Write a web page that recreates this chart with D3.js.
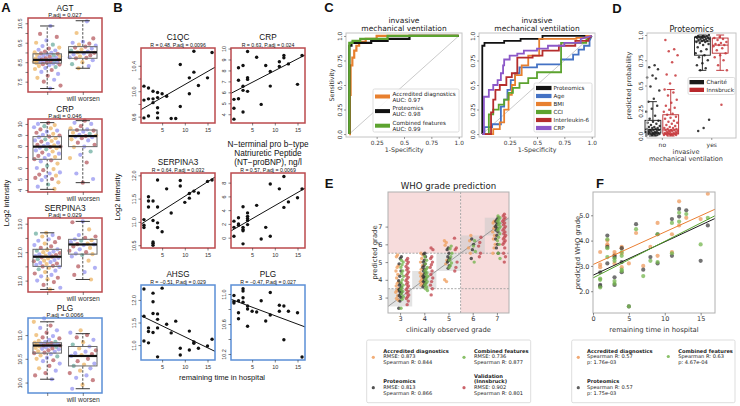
<!DOCTYPE html>
<html><head><meta charset="utf-8">
<script src="https://cdn.jsdelivr.net/npm/d3@7/dist/d3.min.js"></script>
<style>html,body{margin:0;padding:0;background:#fff}svg{display:block}</style>
</head><body>
<svg id="fig" width="740" height="406" xmlns="http://www.w3.org/2000/svg"></svg>
<script>
// ================= DATA =================
// ---- Panel A: protein intensities (no worsening vs will worsen) ----
const agtNo = [10.36, 9.95, 9.8, 9.62, 9.5, 9.4, 9.33, 9.25, 9.2, 9.14, 9.1, 9.05, 9.0, 8.98, 8.95, 8.93, 8.9, 8.88, 8.85, 8.82, 8.8, 8.78, 8.75, 8.72, 8.7, 8.68, 8.66, 8.64, 8.62, 8.6, 8.58, 8.56, 8.55, 8.53, 8.52, 8.5, 8.48, 8.47, 8.45, 8.43, 8.4, 8.38, 8.35, 8.3, 8.25, 8.2, 8.15, 8.1, 8.0, 7.9, 7.8, 7.7, 7.6, 7.5, 7.3, 7.15];
const agtWorse = [10.6, 10.0, 9.72, 9.55, 9.5, 9.45, 9.4, 9.35, 9.3, 9.25, 9.2, 9.15, 9.1, 9.05, 9.0, 8.98, 8.95, 8.9, 8.85, 8.8, 8.75, 8.72, 8.7, 8.6, 8.5, 8.4, 8.3, 8.19];
const crpNo = [10.1, 10.0, 9.9, 9.8, 9.7, 9.6, 9.5, 9.4, 9.3, 9.2, 9.1, 9.0, 8.95, 8.85, 8.8, 8.7, 8.6, 8.5, 8.45, 8.4, 8.3, 8.2, 8.1, 8.05, 8.0, 7.95, 7.9, 7.85, 7.8, 7.7, 7.6, 7.5, 7.4, 7.3, 7.2, 7.1, 7.0, 6.9, 6.8, 6.7, 6.6, 6.4, 6.2, 6.0, 5.9, 5.8, 5.6, 5.5, 5.4, 5.3, 5.2, 5.1, 5.0, 4.9, 4.7, 4.5, 4.3, 4.1];
const crpWorse = [10.3, 10.1, 10.0, 9.8, 9.6, 9.5, 9.45, 9.4, 9.3, 9.2, 9.1, 9.0, 8.95, 8.9, 8.85, 8.8, 8.7, 8.6, 8.5, 8.3, 8.1, 7.95, 7.9, 7.5, 7.2, 6.9, 6.5, 5.5, 5.0, 4.67];
const serNo = [12.68, 12.65, 12.6, 12.55, 12.5, 12.45, 12.4, 12.35, 12.3, 12.25, 12.2, 12.15, 12.1, 12.08, 12.05, 12.02, 12.0, 11.97, 11.95, 11.92, 11.9, 11.88, 11.86, 11.84, 11.82, 11.8, 11.78, 11.75, 11.72, 11.7, 11.68, 11.65, 11.62, 11.6, 11.58, 11.55, 11.52, 11.5, 11.48, 11.45, 11.4, 11.35, 11.3, 11.25, 11.2, 11.15, 11.1, 11.05, 11.0, 10.95, 10.85, 10.75, 10.69];
const serWorse = [13.08, 13.05, 12.8, 12.6, 12.55, 12.5, 12.45, 12.42, 12.4, 12.35, 12.3, 12.28, 12.27, 12.25, 12.2, 12.15, 12.1, 12.05, 12.0, 11.95, 11.93, 11.9, 11.85, 11.7, 11.5, 11.45, 11.3, 11.2, 11.04];
const plgNo = [11.35, 11.28, 11.2, 11.15, 11.1, 11.05, 11.0, 10.98, 10.95, 10.93, 10.9, 10.88, 10.86, 10.85, 10.84, 10.83, 10.82, 10.81, 10.8, 10.8, 10.79, 10.78, 10.78, 10.77, 10.76, 10.75, 10.74, 10.73, 10.72, 10.71, 10.7, 10.68, 10.66, 10.65, 10.63, 10.62, 10.6, 10.57, 10.55, 10.52, 10.5, 10.47, 10.45, 10.4, 10.35, 10.3, 10.25, 10.2, 10.15, 10.07];
const plgWorse = [11.1, 11.05, 11.0, 10.95, 10.9, 10.85, 10.8, 10.76, 10.72, 10.68, 10.65, 10.62, 10.6, 10.58, 10.56, 10.5, 10.45, 10.4, 10.38, 10.35, 10.3, 10.25, 10.2, 10.15, 10.1, 10.05, 9.95, 9.87];
// box stats: [lower whisker, Q1, median, Q3, upper whisker]
const agtBox = [[7.15, 8.45, 8.62, 8.93, 10.36], [8.19, 8.7, 9.01, 9.3, 10.63]];
const crpBox = [[4.06, 6.79, 7.94, 8.85, 10.12], [4.67, 7.94, 8.9, 9.45, 10.3]];
const serBox = [[10.69, 11.5, 11.84, 12.1, 12.68], [11.04, 11.93, 12.27, 12.45, 13.08]];
const plgBox = [[10.07, 10.62, 10.78, 10.84, 11.28], [9.87, 10.35, 10.56, 10.76, 11.03]];
const aGroups = ["", "will worsen"];
const agtTicks = [7.5, 8.0, 8.5, 9.0, 9.5, 10.0, 10.5], agtLabels = [7.5, 8.5, 9.5, 10.5];
const crpTicks = [4, 5, 6, 7, 8, 9, 10], crpLabels = [4, 5, 6, 7, 8, 9, 10];
const serTicks = [11.0, 11.5, 12.0, 12.5, 13.0], serLabels = [11.0, 12.0, 13.0];
const plgTicks = [10.0, 10.5, 11.0], plgLabels = [10.0, 10.5, 11.0];

// ---- Panel B: [remaining days, log2 intensity] ----
const c1qcPts = [[1,10.08],[1,9.86],[1,9.58],[2,10.05],[2,9.88],[2,9.61],[3,10.0],[3,9.88],[3,9.82],[4,9.98],[4,9.9],[4,9.74],[4,9.66],[4,9.58],[5,9.96],[6,9.92],[7,9.57],[8,9.57],[9,10.42],[9,9.76],[11,10.21],[11,9.96],[12,10.3],[12,10.63],[13,10.09],[15,10.21],[16,10.61]];
const crpBPts = [[1,5.36],[1,4.55],[1,3.55],[2,7.1],[2,8.24],[2,5.42],[3,8.45],[3,6.18],[3,6.55],[3,4.2],[4,9.73],[4,7.33],[4,7.18],[4,6.09],[6,9.2],[7,4.9],[8,8.45],[9,7.9],[9,6.57],[11,8.8],[11,8.36],[12,9.36],[12,9.15],[13,8.6],[15,6.73],[16,9.36]];
const serBPts = [[1,11.05],[1,10.93],[1,10.88],[2,11.54],[2,11.45],[2,11.32],[3,11.45],[3,11.03],[3,10.57],[3,10.54],[3,10.5],[4,11.9],[4,11.32],[4,10.98],[4,10.88],[5,10.79],[6,11.71],[7,11.19],[9,11.89],[9,11.77],[10,11.42],[11,11.61],[11,11.51],[12,11.66],[13,11.62],[15,11.87],[16,11.9]];
const bnpPts = [[1,2.4],[1,1.5],[1,0.2],[2,2.9],[2,2.0],[2,1.8],[3,4.5],[3,1.5],[3,1.2],[3,1.0],[3,-0.9],[4,3.6],[4,3.1],[4,2.8],[4,2.5],[4,1.9],[6,4.7],[7,-0.2],[8,1.5],[9,7.8],[9,0.2],[11,7.1],[12,8.9],[12,4.4],[13,5.2],[15,5.8],[16,7.1]];
const ahsgPts = [[1,12.24],[1,11.64],[1,11.09],[2,11.38],[2,11.3],[2,11.05],[3,12.15],[3,11.96],[3,11.7],[3,11.28],[4,11.69],[4,11.57],[4,11.38],[4,10.74],[5,12.26],[6,11.46],[7,11.27],[8,11.53],[9,10.93],[9,10.78],[11,11.31],[11,10.89],[12,11.07],[12,11.04],[13,10.93],[15,10.98],[16,11.13]];
const plgBPts = [[1,10.98],[1,10.9],[1,10.88],[2,10.91],[2,10.75],[2,10.67],[3,11.07],[3,11.04],[3,10.95],[3,10.89],[4,10.84],[4,10.8],[4,10.57],[5,10.77],[6,10.76],[7,10.91],[8,10.64],[9,11.02],[9,10.72],[11,10.85],[11,10.77],[12,10.84],[12,10.39],[13,10.77],[15,10.75],[16,10.16]];
const bXTicks = [5, 10, 15];

// ---- Panel C: ROC curves [FPR list, TPR list] ----
const rocAccredFpr = [0, 0.005, 0.005, 0.012, 0.012, 0.028, 0.028, 0.045, 0.045, 0.065, 0.065, 0.09, 0.09, 0.15, 0.15, 0.25, 0.25, 1];
const rocAccredTpr = [0, 0, 0.4, 0.4, 0.7, 0.7, 0.78, 0.78, 0.85, 0.85, 0.9, 0.9, 0.94, 0.94, 0.97, 0.97, 1, 1];
const rocProtFpr = [0, 0, 0.02, 0.02, 0.2, 0.2, 0.35, 0.35, 0.55, 0.55, 1];
const rocProtTpr = [0, 0.9, 0.9, 0.93, 0.93, 0.95, 0.95, 0.97, 0.97, 1, 1];
const rocCombFpr = [0, 0, 0.03, 0.03, 0.1, 0.1, 0.35, 0.35, 1];
const rocCombTpr = [0, 0.93, 0.93, 0.95, 0.95, 0.97, 0.97, 1, 1];
const rocAgeFpr = [0, 0.02, 0.02, 0.09, 0.09, 0.17, 0.17, 0.2, 0.2, 0.23, 0.23, 0.26, 0.26, 0.3, 0.3, 0.34, 0.34, 0.5, 0.5, 0.72, 0.72, 0.83, 0.83, 0.88, 0.88, 0.93, 0.93, 0.98, 0.98, 1];
const rocAgeTpr = [0, 0, 0.07, 0.07, 0.1, 0.1, 0.28, 0.28, 0.35, 0.35, 0.45, 0.45, 0.55, 0.55, 0.62, 0.62, 0.68, 0.68, 0.71, 0.71, 0.76, 0.76, 0.81, 0.81, 0.86, 0.86, 0.9, 0.9, 0.95, 1];
const rocBmiFpr = [0, 0.1, 0.1, 0.16, 0.16, 0.2, 0.2, 0.24, 0.24, 0.27, 0.27, 0.3, 0.3, 0.36, 0.36, 0.42, 0.42, 0.52, 0.52, 0.86, 0.86, 0.95, 0.95, 1];
const rocBmiTpr = [0, 0, 0.05, 0.05, 0.12, 0.12, 0.25, 0.25, 0.4, 0.4, 0.5, 0.5, 0.6, 0.6, 0.7, 0.7, 0.8, 0.8, 0.97, 0.97, 0.98, 0.98, 1, 1];
const rocCciFpr = [0, 0.06, 0.06, 0.1, 0.1, 0.15, 0.15, 0.2, 0.2, 0.24, 0.24, 0.28, 0.28, 0.34, 0.34, 0.42, 0.42, 0.5, 0.5, 0.72, 0.72, 0.95, 0.95, 1];
const rocCciTpr = [0, 0, 0.2, 0.2, 0.25, 0.25, 0.3, 0.3, 0.35, 0.35, 0.42, 0.42, 0.47, 0.47, 0.52, 0.52, 0.57, 0.57, 0.63, 0.63, 0.93, 0.93, 0.96, 1];
const rocIl6Fpr = [0, 0.08, 0.08, 0.1, 0.1, 0.12, 0.12, 0.16, 0.16, 0.22, 0.22, 0.27, 0.27, 0.32, 0.32, 0.46, 0.46, 0.55, 0.55, 0.7, 0.7, 0.85, 0.85, 0.97, 0.97, 1];
const rocIl6Tpr = [0, 0, 0.22, 0.22, 0.35, 0.35, 0.45, 0.45, 0.5, 0.5, 0.58, 0.58, 0.62, 0.62, 0.78, 0.78, 0.8, 0.8, 0.85, 0.85, 0.9, 0.9, 0.95, 0.95, 0.97, 1];
const rocCrpFpr = [0, 0.015, 0.015, 0.06, 0.06, 0.1, 0.1, 0.14, 0.14, 0.17, 0.17, 0.19, 0.19, 0.2, 0.2, 0.25, 0.25, 0.32, 0.32, 0.38, 0.38, 0.5, 0.5, 0.6, 0.6, 0.75, 0.75, 0.9, 0.9, 1];
const rocCrpTpr = [0, 0, 0.38, 0.38, 0.45, 0.45, 0.5, 0.5, 0.55, 0.55, 0.62, 0.62, 0.7, 0.7, 0.76, 0.76, 0.8, 0.8, 0.82, 0.82, 0.85, 0.85, 0.87, 0.87, 0.9, 0.9, 0.93, 0.93, 0.97, 1];
const rocTicks = [0.25, 0.5, 0.75, 1.0], rocYTicks = [0.0, 0.25, 0.5, 0.75, 1.0];

// ---- Panel D: predicted probabilities ----
const dChariteNo = [0.70, 0.68, 0.66, 0.60, 0.58, 0.57, 0.49, 0.45, 0.37, 0.34, 0.30, 0.27, 0.24, 0.20, 0.17, 0.15, 0.14, 0.13, 0.12, 0.11, 0.10, 0.09, 0.09, 0.08, 0.08, 0.07, 0.07, 0.06, 0.06, 0.06, 0.05, 0.05, 0.05, 0.04, 0.04, 0.04, 0.03, 0.03, 0.03, 0.03, 0.02, 0.02, 0.02, 0.02, 0.01, 0.01, 0.01, 0.01];
const dInnsNo = [0.95, 0.86, 0.84, 0.80, 0.73, 0.61, 0.60, 0.52, 0.46, 0.43, 0.40, 0.36, 0.33, 0.30, 0.28, 0.26, 0.24, 0.22, 0.21, 0.19, 0.18, 0.17, 0.15, 0.14, 0.13, 0.12, 0.11, 0.10, 0.09, 0.08, 0.08, 0.07, 0.07, 0.06, 0.06, 0.06, 0.05, 0.05, 0.05, 0.04, 0.04, 0.04, 0.03, 0.03, 0.03, 0.03, 0.02, 0.02, 0.02, 0.02, 0.01, 0.01, 0.01, 0.01, 0.01];
const dChariteYes = [1.0, 0.99, 0.99, 0.99, 0.98, 0.98, 0.98, 0.98, 0.97, 0.97, 0.97, 0.96, 0.96, 0.96, 0.95, 0.95, 0.94, 0.94, 0.93, 0.93, 0.92, 0.91, 0.90, 0.88, 0.86, 0.84, 0.82, 0.80, 0.78, 0.75, 0.72, 0.70, 0.67, 0.65, 0.16, 0.08, 0.05];
const dInnsYes = [0.98, 0.97, 0.96, 0.95, 0.93, 0.92, 0.91, 0.90, 0.90, 0.89, 0.87, 0.85, 0.82, 0.80, 0.78, 0.75, 0.70, 0.65, 0.31];
const dBoxCharite = [[0.0, 0.03, 0.065, 0.155, 0.34], [0.65, 0.80, 0.94, 0.98, 1.0]];
const dBoxInns = [[0.0, 0.02, 0.06, 0.21, 0.46], [0.65, 0.82, 0.90, 0.97, 1.0]];
const dCats = ["no", "yes"];

// ---- Panel E: predicted WHO grade per observed grade ----
const eGrades = [3, 4, 5, 6, 7];
const eAccredited = [
  [5.4, 5.3, 4.8, 4.7, 4.5, 4.3, 4.1, 3.9, 3.8, 3.65, 3.5, 3.4, 3.3, 3.1, 2.95, 2.85],
  [5.5, 5.4, 5.2, 5.0, 4.8, 4.6, 4.4, 4.3, 4.2, 4.1, 4.0, 3.9, 3.8, 3.7],
  [6.2, 6.1, 5.95, 5.1, 4.9, 4.0, 3.9],
  [6.5, 6.2, 5.8, 5.5],
  [7.3, 7.2, 7.0, 6.9, 6.7, 6.5, 6.3, 6.0, 5.8, 5.5]];
const eProteomics = [
  [5.3, 5.2, 4.9, 4.5, 4.2, 3.95, 3.8, 3.7, 3.6, 3.5, 3.45, 3.4, 3.35, 3.3, 3.2, 3.1, 3.0, 2.8, 2.4],
  [5.5, 5.45, 5.3, 5.1, 5.0, 4.9, 4.8, 4.7, 4.6, 4.5, 4.4, 4.3, 4.2, 4.15, 4.1, 4.0, 3.95, 3.9, 3.8, 3.7, 3.6],
  [5.8, 5.7, 5.5, 5.3, 5.2, 5.1, 5.0, 4.8, 4.65],
  [6.3, 6.0, 5.7, 5.2],
  [7.5, 7.4, 7.3, 7.2, 7.1, 7.0, 6.9, 6.8, 6.7, 6.5, 6.3, 6.0, 5.8, 5.5]];
const eCombined = [
  [5.1, 5.0, 4.85, 4.7, 4.5, 4.35, 4.2, 4.0, 3.85, 3.7, 3.55, 3.45, 3.35, 3.2, 3.05, 2.9, 2.4],
  [5.3, 5.1, 4.9, 4.7, 4.6, 4.5, 4.4, 4.3, 4.2, 4.1, 4.0, 3.9, 3.8, 3.7, 3.6, 3.5, 3.4],
  [5.9, 5.75, 5.5, 5.3, 5.1, 4.95, 4.8, 4.7],
  [6.2, 5.9, 5.6, 5.0],
  [7.6, 7.5, 7.4, 7.3, 7.2, 7.1, 7.0, 6.9, 6.8, 6.6, 6.4, 6.2, 6.0, 5.5, 5.2]];
const eValidation = [
  [5.2, 5.1, 5.0, 4.9, 4.75, 4.65, 4.55, 4.45, 4.35, 4.25, 4.15, 4.05, 3.95, 3.85, 3.75, 3.65, 3.55, 3.45, 3.35, 3.25, 3.15, 3.05, 2.95, 2.8, 2.6],
  [5.8, 5.7, 5.3, 5.2, 5.0, 4.85, 4.7, 4.5, 4.3, 4.1, 3.9, 3.7, 3.5, 3.15],
  [6.35, 5.8, 5.7, 5.0, 4.7, 4.5],
  [6.4, 6.1, 5.9, 5.5, 5.3],
  [7.7, 7.6, 7.5, 7.4, 7.3, 7.2, 7.1, 7.0, 6.9, 6.8, 6.7, 6.6, 6.5, 6.4, 6.3, 6.2, 6.1, 6.0, 5.8, 5.5, 5.3, 5.0]];
const eLegend = [["Accredited diagnostics", "RMSE: 0.873", "Spearman R: 0.844"], ["Proteomics", "RMSE: 0.813", "Spearman R: 0.866"], ["Combined features", "RMSE: 0.736", "Spearman R: 0.877"], ["Validation", "(Innsbruck)", "RMSE: 0.902", "Spearman R: 0.801"]];

// ---- Panel F: [remaining days, predicted WHO grade] ----
const fAccredited = [[1,3.55],[1,3.05],[1,2.95],[2,4.0],[2,3.85],[2,3.8],[3,3.55],[3,3.45],[3,3.1],[4,3.75],[4,3.7],[4,3.5],[4,2.95],[5,3.1],[6,4.3],[7,3.0],[8,3.75],[9,4.7],[9,3.4],[11,4.25],[11,3.55],[12,5.55],[12,4.6],[13,4.9],[15,4.85],[16,5.85]];
const fProteomics = [[1,2.75],[1,2.25],[1,2.2],[2,4.2],[2,3.75],[2,3.1],[3,3.4],[3,3.35],[3,2.55],[3,2.25],[4,3.7],[4,3.15],[4,2.75],[5,1.4],[6,4.65],[7,2.85],[8,3.35],[9,4.25],[9,3.1],[11,4.85],[11,3.4],[12,5.25],[12,4.95],[13,5.2],[15,3.2],[16,4.6]];
const fCombined = [[1,2.5],[1,2.45],[1,2.15],[2,4.05],[2,3.7],[2,3.35],[3,3.3],[3,3.2],[3,2.4],[3,2.3],[4,3.55],[4,3.4],[4,2.85],[4,2.8],[5,1.4],[6,4.45],[7,2.6],[8,3.2],[9,4.25],[9,3.15],[11,4.7],[11,3.5],[12,5.1],[12,4.75],[13,5.05],[15,3.85],[16,4.9]];
const fLegend = [["Accredited diagnostics", "Spearman R: 0.57", "p: 1.76e-03"], ["Proteomics", "Spearman R: 0.57", "p: 1.75e-03"], ["Combined features", "Spearman R: 0.63", "p: 4.67e-04"]];

// ================= DRAWING =================
const svg = d3.select("#fig");
const RF = "'Liberation Sans', Arial, sans-serif";
const MF = "'DejaVu Sans', sans-serif";
const RED = "#bb4a4d", BLUE = "#5b8fd6";
function txt(x, y, s, o = {}) {
  const t = svg.append("text").attr("x", x).attr("y", y).text(s)
    .attr("font-family", o.f || RF).attr("font-size", o.s || 8)
    .attr("text-anchor", o.a || "middle").attr("fill", o.c || "#111");
  if (o.w) t.attr("font-weight", o.w);
  if (o.r) t.attr("transform", `rotate(${o.r},${x},${y})`);
  return t;
}
function line(g, x1, y1, x2, y2, col, w, dash) {
  const l = g.append("line").attr("x1", x1).attr("y1", y1).attr("x2", x2).attr("y2", y2)
    .attr("stroke", col).attr("stroke-width", w);
  if (dash) l.attr("stroke-dasharray", dash);
  return l;
}
// deterministic low-discrepancy jitter (golden-ratio sequence)
const jit = (i, w) => ((((i + 1) * 0.6180339887) % 1) - 0.5) * w;
function styleYAxis(ax, font, size, off, col) {
  ax.select(".domain").remove();
  ax.selectAll(".tick line").attr("stroke", col || "#333").attr("stroke-width", 0.6);
  ax.selectAll(".tick text").attr("transform", "rotate(-90)").attr("x", 0).attr("y", -off)
    .attr("dy", 0).attr("text-anchor", "middle").attr("font-family", font).attr("font-size", size).attr("fill", "#333");
}
function styleXAxis(ax, font, size, col) {
  ax.select(".domain").remove();
  ax.selectAll(".tick line").attr("stroke", col || "#333").attr("stroke-width", 0.6);
  ax.selectAll(".tick text").attr("font-family", font).attr("font-size", size).attr("fill", "#333");
}

// panel letters
txt(6, 12, "A", {s: 13, w: "bold"});
txt(118, 12, "B", {s: 13, w: "bold"});
txt(329, 12, "C", {s: 13, w: "bold"});
txt(617, 13, "D", {s: 13, w: "bold"});
txt(329, 188, "E", {s: 13, w: "bold"});
txt(600, 188, "F", {s: 13, w: "bold"});

// ---------- Panel A ----------
const aCols = ["#7f7fee", "#a83a40", "#e8a443", "#7f7fee", "#a83a40", "#7f7fee", "#e8a443", "#a83a40", "#7f7fee", "#4f9c8c", "#e8a443", "#7f7fee", "#a83a40"];
const aX = d3.scaleLinear().domain([0.46, 2.54]).range([28, 102]);
const aPanels = [
  {t: "AGT", p: "P.adj = 0.027", top: 18, bot: 92, dom: [6.97, 10.77], ticks: agtTicks, labs: agtLabels, no: agtNo, wo: agtWorse, box: agtBox, fr: RED},
  {t: "CRP", p: "P.adj = 0.046", top: 119, bot: 192, dom: [3.82, 10.45], ticks: crpTicks, labs: crpLabels, no: crpNo, wo: crpWorse, box: crpBox, fr: RED},
  {t: "SERPINA3", p: "P.adj = 0.029", top: 218, bot: 292, dom: [10.6, 13.2], ticks: serTicks, labs: serLabels, no: serNo, wo: serWorse, box: serBox, fr: RED},
  {t: "PLG", p: "P.adj = 0.0066", top: 318, bot: 393, dom: [9.78, 11.36], ticks: plgTicks, labs: plgLabels, no: plgNo, wo: plgWorse, box: plgBox, fr: BLUE}
];
aPanels.forEach((P, k) => {
  const y = d3.scaleLinear().domain(P.dom).range([P.bot, P.top]);
  const g = svg.append("g");
  const hw = aX(1.4) - aX(1);
  [P.no, P.wo].forEach((vals, gi) => {
    g.selectAll(null).data(vals).join("circle")
      .attr("cx", (v, i) => aX(gi + 1) + jit(i + 13 * gi + 29 * k, hw * 1.9))
      .attr("cy", v => y(v)).attr("r", 2.1)
      .attr("fill", (v, i) => aCols[(i * 7 + gi * 3 + k) % aCols.length])
      .attr("fill-opacity", 0.62);
  });
  P.box.forEach((b, gi) => {
    const cx = aX(gi + 1);
    line(g, cx, y(b[0]), cx, y(b[1]), "#222", 0.8, "2.5,1.5");
    line(g, cx, y(b[3]), cx, y(b[4]), "#222", 0.8, "2.5,1.5");
    line(g, cx - hw / 2, y(b[0]), cx + hw / 2, y(b[0]), "#222", 0.9);
    line(g, cx - hw / 2, y(b[4]), cx + hw / 2, y(b[4]), "#222", 0.9);
    g.append("rect").attr("x", cx - hw).attr("y", y(b[3])).attr("width", 2 * hw).attr("height", y(b[1]) - y(b[3]))
      .attr("fill", "none").attr("stroke", "#6a6a6a").attr("stroke-width", 1);
    line(g, cx - hw, y(b[2]), cx + hw, y(b[2]), "#111", 2.2);
  });
  g.append("rect").attr("x", 28).attr("y", P.top).attr("width", 74).attr("height", P.bot - P.top)
    .attr("fill", "none").attr("stroke", P.fr).attr("stroke-width", 1.5);
  const ay = g.append("g").attr("transform", "translate(28,0)")
    .call(d3.axisLeft(y).tickValues(P.ticks).tickSize(2.5).tickFormat(d => P.labs.includes(d) ? (P.t === "CRP" ? d3.format("d")(d) : d3.format(".1f")(d)) : ""));
  styleYAxis(ay, RF, 5.6, 6);
  const ax = g.append("g").attr("transform", `translate(0,${P.bot})`)
    .call(d3.axisBottom(aX).tickValues([1, 2]).tickSize(3).tickPadding(1.2).tickFormat((d, i) => aGroups[i]));
  styleXAxis(ax, RF, 6.8);
  txt(65, P.top - 7.2, P.t, {s: 8.3});
  txt(65, P.top - 1.2, P.p, {s: 5.8});
});
txt(9, 203, "Log2 intensity", {s: 7.5, r: -90});

// ---------- Panel B ----------
const bCols = [141, 231], bRows = [48, 173, 285], bW = 74, bH = 75;
const bPanels = [
  {t: ["C1QC"], s: "R = 0.48, P.adj = 0.0096", pts: c1qcPts, dom: [9.5, 10.68], ticks: [9.6, 9.8, 10.0, 10.2, 10.4], labs: [9.6, 10.0, 10.4], fmt: ".1f", c: 0, r: 0, fr: RED},
  {t: ["CRP"], s: "R = 0.63, P.adj = 0.024", pts: crpBPts, dom: [3.2, 10.05], ticks: [4, 5, 6, 7, 8, 9, 10], labs: [4, 5, 6, 7, 8, 9, 10], fmt: "d", c: 1, r: 0, fr: RED},
  {t: ["SERPINA3"], s: "R = 0.64, P.adj = 0.032", pts: serBPts, dom: [10.44, 12.05], ticks: [10.5, 11.0, 11.5, 12.0], labs: [10.5, 11.0, 11.5, 12.0], fmt: ".1f", c: 0, r: 1, fr: RED},
  {t: ["N\u2212terminal pro b\u2212type", "Natriuretic Peptide", "(NT\u2212proBNP), ng/l"], s: "R = 0.57, P.adj = 0.0069", pts: bnpPts, dom: [-1.5, 9.4], ticks: [0, 2, 4, 6, 8], labs: [0, 2, 4, 6, 8], fmt: "d", c: 1, r: 1, fr: RED},
  {t: ["AHSG"], s: "R = \u22120.51, P.adj = 0.029", pts: ahsgPts, dom: [10.67, 12.33], ticks: [11.0, 11.5, 12.0], labs: [11.0, 11.5, 12.0], fmt: ".1f", c: 0, r: 2, fr: BLUE},
  {t: ["PLG"], s: "R = \u22120.47, P.adj = 0.027", pts: plgBPts, dom: [10.12, 11.12], ticks: [10.2, 10.4, 10.6, 10.8, 11.0], labs: [10.2, 10.6, 11.0], fmt: ".1f", c: 1, r: 2, fr: BLUE}
];
bPanels.forEach(P => {
  const x0 = bCols[P.c], y0 = bRows[P.r];
  const x = d3.scaleLinear().domain([0.35, 16.65]).range([x0, x0 + bW]);
  const y = d3.scaleLinear().domain(P.dom).range([y0 + bH, y0]);
  const g = svg.append("g");
  const clip = "clipB" + P.c + P.r;
  g.append("clipPath").attr("id", clip).append("rect").attr("x", x0).attr("y", y0).attr("width", bW).attr("height", bH);
  const mx = d3.mean(P.pts, d => d[0]), my = d3.mean(P.pts, d => d[1]);
  const sxy = d3.sum(P.pts, d => (d[0] - mx) * (d[1] - my)), sxx = d3.sum(P.pts, d => (d[0] - mx) ** 2);
  const slope = sxy / sxx, icpt = my - slope * mx;
  g.append("line").attr("clip-path", `url(#${clip})`)
    .attr("x1", x(0.35)).attr("y1", y(icpt + slope * 0.35)).attr("x2", x(16.65)).attr("y2", y(icpt + slope * 16.65))
    .attr("stroke", "#111").attr("stroke-width", 1);
  g.selectAll(null).data(P.pts).join("circle")
    .attr("cx", d => x(d[0])).attr("cy", d => y(d[1])).attr("r", 1.7).attr("fill", "#111");
  g.append("rect").attr("x", x0).attr("y", y0).attr("width", bW).attr("height", bH)
    .attr("fill", "none").attr("stroke", P.fr).attr("stroke-width", 1.5);
  const ay = g.append("g").attr("transform", `translate(${x0},0)`)
    .call(d3.axisLeft(y).tickValues(P.ticks).tickSize(2.5).tickFormat(d => P.labs.includes(d) ? d3.format(P.fmt)(d) : ""));
  styleYAxis(ay, RF, 5.5, 5.5);
  const ax = g.append("g").attr("transform", `translate(0,${y0 + bH})`)
    .call(d3.axisBottom(x).tickValues(bXTicks).tickSize(2.5));
  styleXAxis(ax, RF, 5.5);
  const cx = x0 + bW / 2;
  P.t.forEach((s, i) => txt(cx, y0 - 7.8 - (P.t.length - 1 - i) * 9.3, s, {s: 8.2}));
  txt(cx, y0 - 1.3, P.s, {s: 5.2});
});
txt(120, 197, "Log2 intensity", {s: 7.6, r: -90});
txt(222, 380, "remaining time in hospital", {s: 7.6});

// ---------- Panel C ----------
function rocAxes(x0, x1, y0, y1, showYLabel) {
  const x = d3.scaleLinear().domain([-0.03, 1.03]).range([x0, x1]);
  const y = d3.scaleLinear().domain([-0.03, 1.03]).range([y1, y0]);
  const g = svg.append("g");
  g.append("rect").attr("x", x0).attr("y", y0).attr("width", x1 - x0).attr("height", y1 - y0).attr("fill", "#fff");
  line(g, x(0), y(0), x(1), y(1), "#bdbdbd", 0.8);
  g.append("rect").attr("x", x0).attr("y", y0).attr("width", x1 - x0).attr("height", y1 - y0)
    .attr("fill", "none").attr("stroke", "#c4c4c4").attr("stroke-width", 1);
  const ax = g.append("g").attr("transform", `translate(0,${y1})`).call(d3.axisBottom(x).tickValues(rocTicks).tickSize(2).tickPadding(2).tickFormat(d => d === 1 ? "1.0" : String(d)));
  styleXAxis(ax, MF, 5.8, "#555");
  const ay = g.append("g").attr("transform", `translate(${x0},0)`).call(d3.axisLeft(y).tickValues(rocYTicks).tickSize(2).tickFormat(d => d === 0 ? "0.0" : d === 1 ? "1.0" : String(d)));
  styleYAxis(ay, MF, 5.8, 4.5, "#555");
  txt((x0 + x1) / 2, y1 + 15, "1-Specificity", {f: MF, s: 6.3, c: "#333"});
  if (showYLabel) txt(x0 - 12, (y0 + y1) / 2, "Sensitivity", {f: MF, s: 6.3, r: -90, c: "#333"});
  txt((x0 + x1) / 2, y0 - 10.2, "invasive", {f: MF, s: 7.5, c: "#222"});
  txt((x0 + x1) / 2, y0 - 1.6, "mechanical ventilation", {f: MF, s: 7.5, c: "#222"});
  return {g, x, y};
}
function rocCurve(ax, fpr, tpr, col, w) {
  const pts = fpr.map((f, i) => [f, tpr[i]]);
  ax.g.append("path").datum(pts).attr("d", d3.line().x(d => ax.x(d[0])).y(d => ax.y(d[1])))
    .attr("fill", "none").attr("stroke", col).attr("stroke-width", w).attr("stroke-linejoin", "miter");
}
function legendBox(x, y, w, h) {
  svg.append("rect").attr("x", x).attr("y", y).attr("width", w).attr("height", h).attr("rx", 1.5)
    .attr("fill", "#fff").attr("fill-opacity", 0.85).attr("stroke", "#d4d4d4").attr("stroke-width", 0.8);
}
const C_OR = "#e8802f", C_BK = "#111111", C_GR = "#5ca32f", C_BL = "#4472c4", C_RD = "#b52d2d", C_PU = "#8c58c8";
const cL = rocAxes(346, 462, 33, 137, true);
rocCurve(cL, rocAccredFpr, rocAccredTpr, C_OR, 2.2);
rocCurve(cL, rocProtFpr, rocProtTpr, C_BK, 2.2);
rocCurve(cL, rocCombFpr, rocCombTpr, C_GR, 2.2);
legendBox(373, 89, 86, 43);
[[C_OR, "Accredited diagnostics", "AUC: 0.97"], [C_BK, "Proteomics", "AUC: 0.98"], [C_GR, "Combined features", "AUC: 0.99"]].forEach((e, i) => {
  const yy = 96.5 + i * 14.6;
  svg.append("rect").attr("x", 375).attr("y", yy - 2).attr("width", 15).attr("height", 4).attr("fill", e[0]);
  txt(392.5, yy - 0.8, e[1], {f: MF, s: 5.6, a: "start", c: "#222"});
  txt(392.5, yy + 5, e[2], {f: MF, s: 5.6, a: "start", c: "#222"});
});
const cR = rocAxes(479, 595, 33, 137, false);
rocCurve(cR, rocProtFpr, rocProtTpr, C_BK, 1.8);
rocCurve(cR, rocAgeFpr, rocAgeTpr, C_BL, 1.8);
rocCurve(cR, rocBmiFpr, rocBmiTpr, C_OR, 1.8);
rocCurve(cR, rocCciFpr, rocCciTpr, C_GR, 1.8);
rocCurve(cR, rocIl6Fpr, rocIl6Tpr, C_RD, 1.8);
rocCurve(cR, rocCrpFpr, rocCrpTpr, C_PU, 1.8);
legendBox(534, 83, 58, 49);
[[C_BK, "Proteomics"], [C_BL, "Age"], [C_OR, "BMI"], [C_GR, "CCI"], [C_RD, "Interleukin-6"], [C_PU, "CRP"]].forEach((e, i) => {
  const yy = 88 + i * 8;
  svg.append("rect").attr("x", 536).attr("y", yy - 2.1).attr("width", 15.5).attr("height", 4.2).attr("fill", e[0]);
  txt(553.5, yy + 2, e[1], {f: MF, s: 5.6, a: "start", c: "#222"});
});

// ---------- Panel D ----------
{
  const x0 = 647, x1 = 736, y0 = 33, y1 = 138;
  const x = d3.scaleLinear().domain([-0.3, 1.5]).range([x0, x1]);
  const y = d3.scaleLinear().domain([-0.02, 1.02]).range([y1, y0]);
  const g = svg.append("g");
  const D_BK = "#1a1a1a", D_RD = "#b8282c";
  const bw = x(0.16) - x(0);
  const groups = [
    {vals: [dChariteNo, dChariteYes], box: dBoxCharite, dx: -0.18, col: D_BK, pc: "#1a1a1a"},
    {vals: [dInnsNo, dInnsYes], box: dBoxInns, dx: 0.18, col: D_RD, pc: "#c7373b"}
  ];
  groups.forEach((G, gi) => {
    G.box.forEach((b, ci) => {
      const cx = x(ci + G.dx);
      line(g, cx, y(b[0]), cx, y(b[1]), G.col, 0.9);
      line(g, cx, y(b[3]), cx, y(b[4]), G.col, 0.9);
      line(g, cx - bw / 2, y(b[0]), cx + bw / 2, y(b[0]), G.col, 0.9);
      line(g, cx - bw / 2, y(b[4]), cx + bw / 2, y(b[4]), G.col, 0.9);
      g.append("rect").attr("x", cx - bw).attr("y", y(b[3])).attr("width", 2 * bw).attr("height", y(b[1]) - y(b[3]))
        .attr("fill", "none").attr("stroke", G.col).attr("stroke-width", 0.9);
      line(g, cx - bw, y(b[2]), cx + bw, y(b[2]), G.col, 0.9);
    });
    G.vals.forEach((vals, ci) => {
      g.selectAll(null).data(vals).join("circle")
        .attr("cx", (v, i) => x(ci + G.dx) + jit(i + 17 * gi + 41 * ci, bw * 1.8))
        .attr("cy", v => y(v)).attr("r", 1.25).attr("fill", G.pc).attr("fill-opacity", 0.85);
    });
  });
  g.append("rect").attr("x", x0).attr("y", y0).attr("width", x1 - x0).attr("height", y1 - y0)
    .attr("fill", "none").attr("stroke", "#c4c4c4").attr("stroke-width", 1);
  const ay = g.append("g").attr("transform", `translate(${x0},0)`).call(d3.axisLeft(y).tickValues(rocYTicks).tickSize(2).tickFormat(d => d === 0 ? "0.0" : d === 1 ? "1.0" : String(d)));
  styleYAxis(ay, MF, 5.8, 4.5, "#555");
  const ax = g.append("g").attr("transform", `translate(0,${y1})`).call(d3.axisBottom(x).tickValues([0, 1]).tickSize(2).tickFormat((d, i) => dCats[i]));
  styleXAxis(ax, MF, 6, "#555");
  txt((x0 + x1) / 2, 31.5, "Proteomics", {f: MF, s: 8, c: "#222"});
  txt(631, (y0 + y1) / 2, "predicted probability", {f: MF, s: 6.5, r: -90, c: "#333"});
  txt(686, 154, "invasive", {f: MF, s: 6.5, c: "#333"});
  txt(686, 161, "mechanical ventilation", {f: MF, s: 6.5, c: "#333"});
  legendBox(688, 77.5, 47, 17);
  [[D_BK, "Charit\u00e9"], [D_RD, "Innsbruck"]].forEach((e, i) => {
    const yy = 82 + i * 7.7;
    svg.append("rect").attr("x", 689.5).attr("y", yy - 2).attr("width", 14.5).attr("height", 4.3).attr("fill", e[0]);
    txt(706.5, yy + 2, e[1], {f: MF, s: 5.6, a: "start", c: "#222"});
  });
}

// ---------- Panel E ----------
const E_OR = "#f0a060", E_BK = "#333333", E_GR = "#74b54e", E_RD = "#c24850";
{
  const x0 = 388, x1 = 509, y0 = 192, y1 = 313;
  const x = d3.scaleLinear().domain([2.5, 7.5]).range([x0, x1]);
  const y = d3.scaleLinear().domain([2.13, 8.95]).range([y1, y0]);
  const g = svg.append("g");
  g.append("rect").attr("x", x(2.5)).attr("y", y(8.95)).attr("width", x(5.5) - x(2.5)).attr("height", y(5.5) - y(8.95)).attr("fill", "#f7dcdc");
  g.append("rect").attr("x", x(5.5)).attr("y", y(8.95)).attr("width", x(7.5) - x(5.5)).attr("height", y(2.13) - y(8.95)).attr("fill", "#f7dcdc");
  eGrades.forEach(gr => {
    g.append("rect").attr("x", x(gr - 0.5)).attr("y", y(gr + 0.5)).attr("width", x(gr + 0.5) - x(gr - 0.5)).attr("height", y(gr - 0.5) - y(gr + 0.5))
      .attr("fill", "#c8c8c8").attr("fill-opacity", 0.5);
  });
  line(g, x(2.5), y(2.5), x(7.5), y(7.5), "#8a8a8a", 0.8);
  line(g, x0, y(5.5), x1, y(5.5), "#a0a0a0", 0.9, "2,1.5");
  line(g, x0, y(3.5), x1, y(3.5), "#a0a0a0", 0.9, "2,1.5");
  line(g, x(5.5), y0, x(5.5), y1, "#a0a0a0", 0.9, "2,1.5");
  const series = [[eAccredited, E_OR, -0.12], [eProteomics, E_BK, 0], [eCombined, E_GR, 0.08], [eValidation, E_RD, 0.3]];
  series.forEach((S, si) => {
    S[0].forEach((vals, gi) => {
      g.selectAll(null).data(vals).join("circle")
        .attr("cx", (v, i) => x(eGrades[gi] + S[2]) + jit(i + 7 * si + 19 * gi, 3))
        .attr("cy", v => y(v)).attr("r", 1.7).attr("fill", S[1]).attr("fill-opacity", 0.78);
    });
  });
  g.append("rect").attr("x", x0).attr("y", y0).attr("width", x1 - x0).attr("height", y1 - y0)
    .attr("fill", "none").attr("stroke", "#b0b0b0").attr("stroke-width", 1);
  const ax = g.append("g").attr("transform", `translate(0,${y1})`).call(d3.axisBottom(x).tickValues(eGrades).tickSize(2.5).tickPadding(1.3).tickFormat(d3.format("d")));
  styleXAxis(ax, MF, 6.5, "#444");
  const ay = g.append("g").attr("transform", `translate(${x0},0)`).call(d3.axisLeft(y).tickValues(eGrades).tickSize(2.5).tickFormat(d3.format("d")));
  styleXAxis(ay, MF, 6.5, "#444");
  txt((x0 + x1) / 2, 189, "WHO grade prediction", {f: MF, s: 8.6, c: "#222"});
  txt((x0 + x1) / 2, 331.5, "clinically observed grade", {f: MF, s: 6.8, c: "#333"});
  txt(377, (y0 + y1) / 2, "predicted grade", {f: MF, s: 6.8, r: -90, c: "#333"});
  legendBox(366.7, 340, 164, 62.7);
  const cols = [E_OR, E_BK, E_GR, E_RD];
  const pos = [[373.3, 383.3, 352.5], [373.3, 383.3, 383.3], [464, 474, 352.5], [464, 474, 377.7]];
  eLegend.forEach((lines, i) => {
    const [dx, tx, ty] = pos[i];
    const nb = lines.length === 4 ? 2 : 1;
    svg.append("circle").attr("cx", dx).attr("cy", i % 2 === 0 ? 357.3 : 387.7).attr("r", 1.6).attr("fill", cols[i]).attr("fill-opacity", 0.85);
    lines.forEach((s, j) => {
      txt(tx, ty + j * 5.6, s, {f: MF, s: 5.1, a: "start", c: "#222", w: j < nb ? "bold" : null});
    });
  });
}

// ---------- Panel F ----------
{
  const x0 = 593, x1 = 715, y0 = 192, y1 = 313;
  const x = d3.scaleLinear().domain([0, 17]).range([x0, x1]);
  const y = d3.scaleLinear().domain([1.14, 5.92]).range([y1, y0]);
  const g = svg.append("g");
  const F_OR = "#ee9a5c", F_BK = "#444444", F_GR = "#74b54e";
  const series = [[fAccredited, F_OR, "#ea7f33"], [fProteomics, F_BK, "#1c1c1c"], [fCombined, F_GR, "#55a02c"]];
  series.forEach(S => {
    g.selectAll(null).data(S[0]).join("circle")
      .attr("cx", d => x(d[0])).attr("cy", d => y(d[1])).attr("r", 2.1).attr("fill", S[1]).attr("fill-opacity", 0.75);
  });
  series.forEach(S => {
    const P = S[0];
    const mx = d3.mean(P, d => d[0]), my = d3.mean(P, d => d[1]);
    const slope = d3.sum(P, d => (d[0] - mx) * (d[1] - my)) / d3.sum(P, d => (d[0] - mx) ** 2);
    const ic = my - slope * mx;
    line(g, x(0), y(ic), x(17), y(ic + slope * 17), S[2], 1);
  });
  g.append("rect").attr("x", x0).attr("y", y0).attr("width", x1 - x0).attr("height", y1 - y0)
    .attr("fill", "none").attr("stroke", "#b0b0b0").attr("stroke-width", 1);
  const ax = g.append("g").attr("transform", `translate(0,${y1})`).call(d3.axisBottom(x).tickValues([0, 5, 10, 15]).tickSize(2.5).tickPadding(1.3));
  styleXAxis(ax, MF, 6.5, "#444");
  const ay = g.append("g").attr("transform", `translate(${x0},0)`).call(d3.axisLeft(y).tickValues([2, 3, 4, 5]).tickSize(2).tickPadding(1.5));
  styleXAxis(ay, MF, 6.5, "#444");
  txt((x0 + x1) / 2, 331.5, "remaining time in hospital", {f: MF, s: 6.8, c: "#333"});
  txt(580, (y0 + y1) / 2, "predicted WHO grade", {f: MF, s: 6.8, r: -90, c: "#333"});
  legendBox(571.7, 340, 163.3, 62.7);
  const cols = [F_OR, F_BK, F_GR];
  const pos = [[578.3, 587, 352.5, 357.3], [578.3, 587, 383.3, 387.7], [668.3, 678.3, 352.5, 356.5]];
  fLegend.forEach((lines, i) => {
    const [dx, tx, ty, dy] = pos[i];
    svg.append("circle").attr("cx", dx).attr("cy", dy).attr("r", 1.6).attr("fill", cols[i]).attr("fill-opacity", 0.85);
    lines.forEach((s, j) => txt(tx, ty + j * 5.6, s, {f: MF, s: 5.1, a: "start", c: "#222", w: j === 0 ? "bold" : null}));
  });
}
</script>
</body></html>
